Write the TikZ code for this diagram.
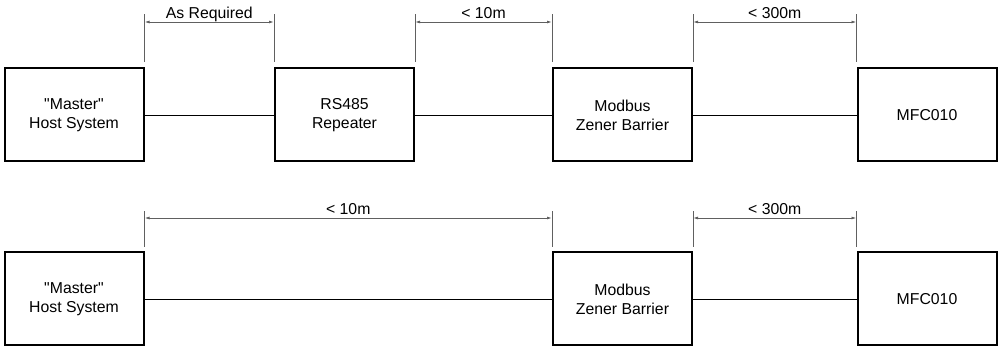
\documentclass[tikz,border=0pt]{standalone}
\usepackage{fontspec}
\setmainfont{Liberation Sans}[Ligatures=TeXOff]
\usetikzlibrary{arrows.meta, calc}
\definecolor{dimgraycol}{HTML}{606060}

\begin{document}
\begin{tikzpicture}[x=1pt, y=1pt, font=\fontsize{15.8}{19}\selectfont,
    unitbox/.style={draw=black, line width=2pt, minimum width=139pt,
      minimum height=93pt, inner sep=0pt, align=center},
    link/.style={draw=black, line width=0.9pt},
    dimext/.style={draw=dimgraycol, line width=0.8pt},
    dimline/.style={draw=dimgraycol, line width=0.8pt,
      {Latex[length=5pt,width=2.8pt]}-{Latex[length=5pt,width=2.8pt]}},
    dimlabel/.style={anchor=base, inner sep=0pt, yshift=3.5pt}]
  \useasboundingbox (0,0) rectangle (1000,347);

  % Top row: with repeater
  \node[unitbox] (hostA) at (74,232) {"Master"\\Host System};
  \node[unitbox] (repA) at (344.5,232) {RS485\\Repeater};
  \node[unitbox] (barA) at (622.5,232) {Modbus\\Zener Barrier};
  \node[unitbox] (mfcA) at (927,232) {MFC010};
  \draw[link] (hostA) -- (repA);
  \draw[link] (repA) -- (barA);
  \draw[link] (barA) -- (mfcA);

  % Top row dimensions
  \coordinate (dA1) at ($(hostA.north east)+(0,45.5)$);
  \coordinate (dA2) at ($(repA.north west)+(0,45.5)$);
  \coordinate (dA3) at ($(repA.north east)+(0,45.5)$);
  \coordinate (dA4) at ($(barA.north west)+(0,45.5)$);
  \coordinate (dA5) at ($(barA.north east)+(0,45.5)$);
  \coordinate (dA6) at ($(mfcA.north west)+(0,45.5)$);
  \foreach \n/\c in {hostA.north east/dA1, repA.north west/dA2,
                     repA.north east/dA3, barA.north west/dA4,
                     barA.north east/dA5, mfcA.north west/dA6}
    \draw[dimext] ($(\n)+(0,5.5)$) -- ($(\c)+(0,8)$);
  \draw[dimline] (dA1) -- (dA2) node[midway, dimlabel] {As Required};
  \draw[dimline] (dA3) -- (dA4) node[midway, dimlabel] {< 10m};
  \draw[dimline] (dA5) -- (dA6) node[midway, dimlabel] {< 300m};

  % Bottom row: direct
  \node[unitbox] (hostB) at (74,48) {"Master"\\Host System};
  \node[unitbox] (barB) at (622.5,48) {Modbus\\Zener Barrier};
  \node[unitbox] (mfcB) at (927,48) {MFC010};
  \draw[link] (hostB) -- (barB);
  \draw[link] (barB) -- (mfcB);

  % Bottom row dimensions
  \coordinate (dB1) at ($(hostB.north east)+(0,33.5)$);
  \coordinate (dB2) at ($(barB.north west)+(0,33.5)$);
  \coordinate (dB3) at ($(barB.north east)+(0,33.5)$);
  \coordinate (dB4) at ($(mfcB.north west)+(0,33.5)$);
  \foreach \n/\c in {hostB.north east/dB1, barB.north west/dB2,
                     barB.north east/dB3, mfcB.north west/dB4}
    \draw[dimext] ($(\n)+(0,4.5)$) -- ($(\c)+(0,7)$);
  \draw[dimline] (dB1) -- (dB2) node[midway, dimlabel] {< 10m};
  \draw[dimline] (dB3) -- (dB4) node[midway, dimlabel] {< 300m};
\end{tikzpicture}
\end{document}
